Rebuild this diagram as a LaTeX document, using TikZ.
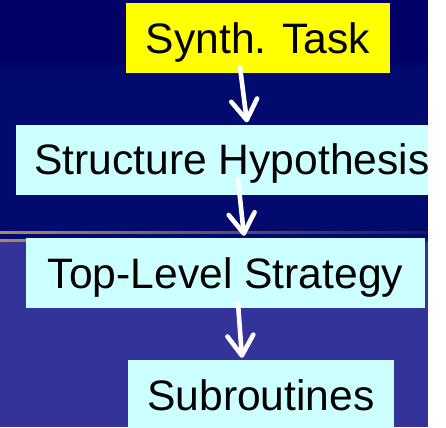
\documentclass[tikz,border=0pt]{standalone}
\usepackage{fontspec}
\setmainfont{Liberation Sans}
\usetikzlibrary{arrows.meta}
\definecolor{navytop}{HTML}{000066}
\definecolor{navylow}{HTML}{020B6D}
\definecolor{slateband}{HTML}{333399}
\definecolor{tanrule}{HTML}{A88A6A}
\definecolor{tanfade}{HTML}{1E1568}
\definecolor{taskfill}{HTML}{FFFF00}
\definecolor{stagefill}{HTML}{CCFFFF}
\begin{document}
\begin{tikzpicture}[x=1bp,y=-1bp,
  stage/.style={rectangle, inner sep=0pt, minimum height=70bp,
    text height=30.5bp, text depth=0bp, text=black,
    font=\fontsize{42.6bp}{50bp}\selectfont},
  flow/.style={draw=white, line width=4.6bp, line cap=round, line join=round,
    -{Straight Barb[length=20bp,width=26bp,line cap=round,line join=round]}}]
\useasboundingbox (0,0) rectangle (446,427);
% slide background
\fill[navytop] (0,0) rectangle (428,58);
\shade[top color=navytop, bottom color=navylow] (0,58) rectangle (428,72);
\fill[navylow] (0,72) rectangle (428,240);
\fill[slateband] (0,240) rectangle (428,427);
\shade[left color=tanrule, right color=tanfade] (0,231) rectangle (428,233);
\shade[left color=tanrule, right color=tanfade] (0,239) rectangle (428,241);
% stages
\node[stage, fill=taskfill, minimum width=264bp] (task) at (258,38) {Synth. Task};
\node[stage, fill=stagefill, minimum width=432bp] (hyp) at (232,159.5) {Structure Hypothesis};
\node[stage, fill=stagefill, minimum width=399bp] (top) at (225.5,273) {Top-Level Strategy};
\node[stage, fill=stagefill, minimum width=266bp] (sub) at (261,395) {Subroutines};
% refinement arrows
\draw[flow] ([xshift=-18bp,yshift=6bp]task.south) -- ([xshift=15bp,yshift=2bp]hyp.north);
\draw[flow] ([xshift=6bp,yshift=15.5bp]hyp.south) -- ([xshift=18.5bp,yshift=2bp]top.north);
\draw[flow] ([xshift=12.5bp,yshift=5bp]top.south) -- ([xshift=-19bp,yshift=2bp]sub.north);
% right margin
\fill[white] (428,0) rectangle (446,427);
\end{tikzpicture}
\end{document}
